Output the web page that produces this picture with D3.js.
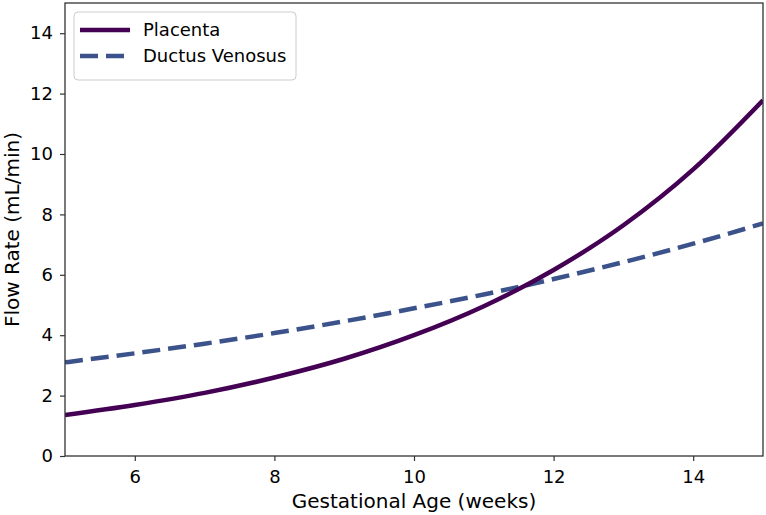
<!DOCTYPE html>
<html>
<head>
<meta charset="utf-8">
<script src="https://cdn.jsdelivr.net/npm/d3@7"></script>
<style>
  body { margin: 0; background: #fff; }
  svg text { font-family: "DejaVu Sans", sans-serif; fill: #000; }
</style>
</head>
<body>
<div id="chart"></div>
<script>
// data (weeks vs mL/min)
const weeks = [5, 6, 7, 8, 9, 10, 11, 12, 13, 14, 15];
const placenta = [1.36, 1.69, 2.09, 2.60, 3.22, 4.00, 4.96, 6.16, 7.64, 9.49, 11.78];
const ductusVenosus = [3.10, 3.40, 3.72, 4.07, 4.46, 4.89, 5.35, 5.86, 6.42, 7.03, 7.70];
const xTicks = [6, 8, 10, 12, 14];
const yTicks = [0, 2, 4, 6, 8, 10, 12, 14];

const TICK_FONT_SIZE = "18px";
const LABEL_FONT_SIZE = "20px";
const LEGEND_FONT_SIZE = "18px";

var margin = { top: 3, right: 3, bottom: 59, left: 65 },
    width = 766 - margin.left - margin.right,
    height = 515 - margin.top - margin.bottom;

const svg = d3.select("#chart").append("svg")
    .attr("width", 766)
    .attr("height", 515)
    .append("g")
    .attr("transform", "translate(" + margin.left + "," + margin.top + ")");

var x = d3.scaleLinear().domain([5, 15]).range([0, width]);
var y = d3.scaleLinear().domain([0, 15]).range([height, 0]);

function seriesLine(values) {
    return d3.line()
        .x(function (d, i) { return x(weeks[i]); })
        .y(function (d) { return y(d); })
        .curve(d3.curveMonotoneX)(values);
}

svg.append("clipPath").attr("id", "plot-clip")
    .append("rect").attr("width", width).attr("height", height);

const lines = svg.append("g").attr("clip-path", "url(#plot-clip)");

lines.append("path")
    .attr("d", seriesLine(ductusVenosus))
    .attr("fill", "none")
    .attr("stroke", "#3b528b")
    .attr("stroke-width", 4.5)
    .attr("stroke-dasharray", "18,8");

lines.append("path")
    .attr("d", seriesLine(placenta))
    .attr("fill", "none")
    .attr("stroke", "#440154")
    .attr("stroke-width", 4.5);

// axes
const xAxis = svg.append("g")
    .attr("transform", "translate(0," + height + ")")
    .call(d3.axisBottom(x).tickValues(xTicks).tickSize(5).tickPadding(9).tickFormat(d3.format("d")));

const yAxis = svg.append("g")
    .call(d3.axisLeft(y).tickValues(yTicks).tickSize(5).tickPadding(7).tickFormat(d3.format("d")));

[xAxis, yAxis].forEach(function (a) {
    a.select(".domain").remove();
    a.selectAll("line").attr("stroke", "#333").attr("stroke-width", 1.2);
    a.selectAll("text").style("font-size", TICK_FONT_SIZE).attr("font-family", "DejaVu Sans");
});

// frame
svg.append("rect")
    .attr("width", width)
    .attr("height", height)
    .attr("fill", "none")
    .attr("stroke", "#333")
    .attr("stroke-width", 1.3);

// axis labels
svg.append("text")
    .attr("x", width / 2)
    .attr("y", height + 52)
    .attr("text-anchor", "middle")
    .style("font-size", LABEL_FONT_SIZE)
    .text("Gestational Age (weeks)");

svg.append("text")
    .attr("transform", "translate(" + (-46) + "," + (height / 2) + ") rotate(-90)")
    .attr("text-anchor", "middle")
    .style("font-size", LABEL_FONT_SIZE)
    .text("Flow Rate (mL/min)");

// legend
const legend = svg.append("g").attr("transform", "translate(9,9)");
legend.append("rect")
    .attr("width", 222)
    .attr("height", 68)
    .attr("rx", 4)
    .attr("fill", "#fff")
    .attr("fill-opacity", 0.8)
    .attr("stroke", "#ccc");

const legendItems = [
    { name: "Placenta", color: "#440154", dash: null },
    { name: "Ductus Venosus", color: "#3b528b", dash: "18,8" }
];

legendItems.forEach(function (d, i) {
    const row = legend.append("g").attr("transform", "translate(0," + (18 + i * 26) + ")");
    row.append("line")
        .attr("x1", 6).attr("x2", 56)
        .attr("stroke", d.color)
        .attr("stroke-width", 4.5)
        .attr("stroke-dasharray", d.dash);
    row.append("text")
        .attr("x", 69)
        .attr("dy", "0.35em")
        .style("font-size", LEGEND_FONT_SIZE)
        .text(d.name);
});
</script>
</body>
</html>
